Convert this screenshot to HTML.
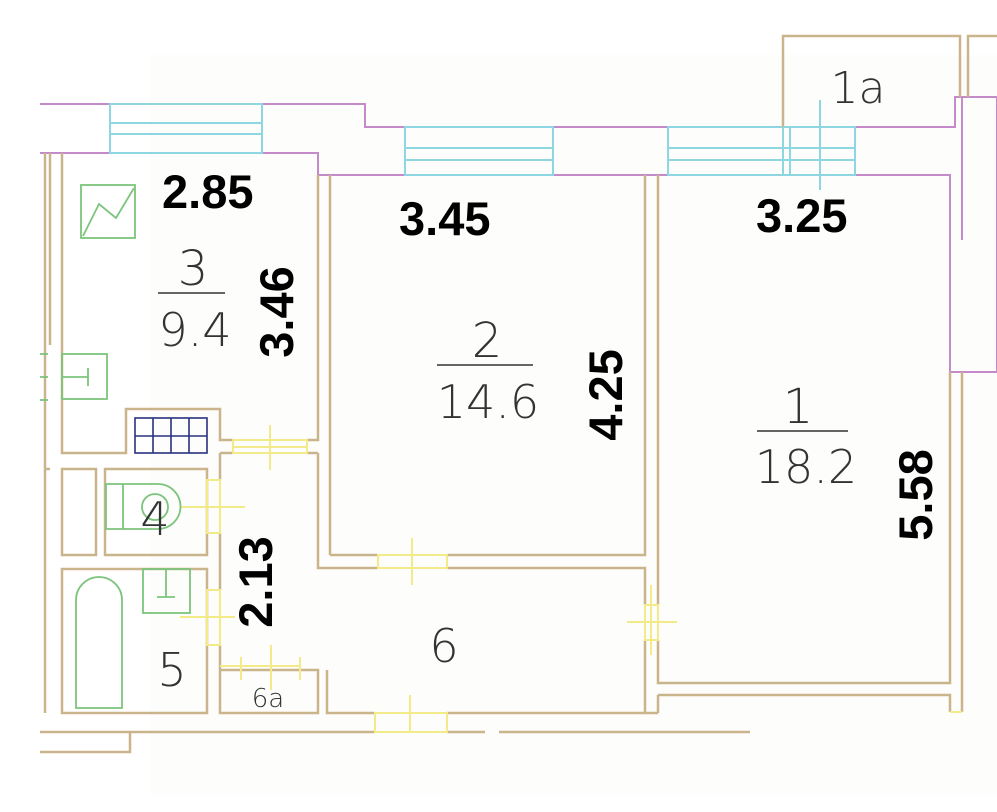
<!DOCTYPE html>
<html><head><meta charset="utf-8"><style>
html,body{margin:0;padding:0;background:#fff;}
svg{display:block}
.t{stroke:#c9b48c;stroke-width:2.5;fill:none}
.m{stroke:#c58ac9;stroke-width:2;fill:none}
.c{stroke:#8fd6e3;stroke-width:2;fill:none}
.g{stroke:#7cc47c;stroke-width:1.8;fill:none}
.y{stroke:#f3ea8a;stroke-width:2;fill:none}
.b{font-family:"Liberation Sans",sans-serif;font-weight:bold;font-size:47px;fill:#000}
.l{font-family:"DejaVu Sans","Liberation Sans",sans-serif;font-weight:200;fill:#333}
</style></head><body>
<svg width="997" height="812" viewBox="0 0 997 812" xmlns="http://www.w3.org/2000/svg">
<rect width="997" height="812" fill="#fff"/>
<rect x="150" y="55" width="847" height="740" fill="#fdfdfb"/>
<!-- facade -->
<polyline class="m" points="40,104 110,104"/>
<polyline class="m" points="262,104 365,104 365,127 405,127"/>
<polyline class="m" points="855,127 955,127 955,97 997,97"/>
<polyline class="m" points="40,153 110,153"/>
<polyline class="m" points="262,153 318,153 318,175 405,175"/>
<rect class="m" x="553" y="127" width="115" height="48"/>
<polyline class="m" points="855,175 950,175 950,372 997,372"/>
<line class="m" x1="962" y1="97" x2="962" y2="240"/>
<line class="m" x1="997" y1="97" x2="997" y2="372"/>
<!-- windows -->
<rect class="c" x="110" y="104" width="152" height="49"/>
<line class="c" x1="110" y1="123" x2="262" y2="123"/><line class="c" x1="110" y1="134" x2="262" y2="134"/>
<rect class="c" x="405" y="127" width="148" height="48"/>
<line class="c" x1="405" y1="148" x2="553" y2="148"/><line class="c" x1="405" y1="160" x2="553" y2="160"/>
<rect class="c" x="668" y="127" width="187" height="48"/>
<line class="c" x1="668" y1="148" x2="855" y2="148"/><line class="c" x1="668" y1="160" x2="855" y2="160"/>
<line class="c" x1="783" y1="127" x2="783" y2="175"/><line class="c" x1="790" y1="127" x2="790" y2="175"/>
<line class="c" x1="820" y1="100" x2="820" y2="190"/>
<!-- balconies -->
<polyline class="t" points="783,127 783,36 960,36 960,97"/>
<polyline class="t" points="968,97 968,36 997,36"/>
<!-- left outer walls -->
<line class="t" x1="45" y1="153" x2="45" y2="713"/>
<line class="t" x1="50" y1="153" x2="50" y2="345"/>
<!-- room 3 -->
<polyline class="t" points="62,153 62,453 126,453 126,409 220,409 220,440 233,440"/>
<polyline class="t" points="307,440 318,440 318,175"/>
<line class="t" x1="330" y1="175" x2="330" y2="555"/>
<!-- room 2 -->
<polyline class="t" points="330,555 378,555"/><polyline class="t" points="447,555 645,555 645,175"/>
<polyline class="t" points="318,453 318,568 378,568"/><polyline class="t" points="447,568 645,568 645,605"/>
<polyline class="t" points="645,640 645,713 447,713"/>
<polyline class="t" points="307,453 318,453"/>
<polyline class="t" points="220,453 233,453"/>
<!-- room 1 -->
<polyline class="t" points="658,175 658,605"/><polyline class="t" points="658,640 658,683 950,683 950,372"/>
<polyline class="t" points="658,695 950,695 950,712"/>
<line class="t" x1="962" y1="372" x2="962" y2="712"/>
<line class="t" x1="645" y1="713" x2="658" y2="713"/><line class="t" x1="658" y1="695" x2="658" y2="713"/>
<!-- corridor / wet -->
<polyline class="t" points="220,453 220,480"/><polyline class="t" points="220,533 220,590"/><polyline class="t" points="220,645 220,713 318,713 318,670 220,670"/>
<polyline class="t" points="327,670 327,713 375,713"/>
<rect class="t" x="62" y="469" width="34" height="86"/>
<rect class="t" x="105" y="469" width="102" height="86"/>
<rect class="t" x="62" y="569" width="145" height="144"/>
<line class="t" x1="45" y1="469" x2="50" y2="469"/>
<line class="t" x1="40" y1="732" x2="375" y2="732"/>
<line class="t" x1="447" y1="732" x2="485" y2="732"/>
<line class="t" x1="499" y1="732" x2="750" y2="732"/>
<polyline class="t" points="40,752 130,752 130,732"/>
<!-- doors yellow -->
<g class="y">
<rect x="233" y="440" width="74" height="13"/><line x1="270" y1="425" x2="270" y2="470"/><line x1="233" y1="447" x2="307" y2="447"/>
<rect x="207" y="480" width="13" height="53"/><line x1="180" y1="507" x2="245" y2="507"/>
<rect x="207" y="590" width="13" height="55"/><line x1="180" y1="617" x2="235" y2="617"/>
<rect x="378" y="555" width="69" height="13"/><line x1="412" y1="538" x2="412" y2="585"/>
<rect x="645" y="605" width="13" height="35"/><line x1="627" y1="622" x2="677" y2="622"/><line x1="651" y1="585" x2="651" y2="655"/>
<rect x="375" y="713" width="72" height="19"/><line x1="410" y1="695" x2="410" y2="732"/>
<line x1="220" y1="666" x2="300" y2="666"/><line x1="241" y1="657" x2="241" y2="680"/><line x1="271" y1="645" x2="271" y2="690"/><line x1="300" y1="657" x2="300" y2="680"/>
<line x1="950" y1="712" x2="962" y2="712"/>
</g>
<!-- fixtures -->
<g class="g">
<rect x="81" y="185" width="54" height="53"/><polyline points="83,236 99,204 116,218 134,188"/>
<rect x="62" y="354" width="45" height="45"/><line x1="62" y1="377" x2="88" y2="377"/><line x1="88" y1="368" x2="88" y2="386"/>
<line x1="40" y1="354" x2="48" y2="354"/><line x1="40" y1="377" x2="48" y2="377"/><line x1="40" y1="400" x2="48" y2="400"/>
<path d="M106,484 H158 A22,22 0 0 1 158,529 H106 Z"/><line x1="123" y1="484" x2="123" y2="529"/><circle cx="155" cy="507" r="13"/>
<rect x="143" y="569" width="47" height="44"/><line x1="166" y1="569" x2="166" y2="597"/><line x1="157" y1="597" x2="175" y2="597"/>
<path d="M76,708 V600 A23,23 0 0 1 122,600 V708 Z"/>
</g>
<g stroke="#2b3180" stroke-width="1.6" fill="none">
<rect x="135" y="418" width="72" height="35"/><line x1="135" y1="436" x2="207" y2="436"/>
<line x1="153" y1="418" x2="153" y2="453"/><line x1="171" y1="418" x2="171" y2="453"/><line x1="189" y1="418" x2="189" y2="453"/>
</g>
<!-- dimension text -->
<text class="b" x="162" y="208">2.85</text>
<text class="b" x="399" y="235">3.45</text>
<text class="b" x="756" y="232">3.25</text>
<text class="b" transform="translate(293,312) rotate(-90)" text-anchor="middle">3.46</text>
<text class="b" transform="translate(622,395) rotate(-90)" text-anchor="middle">4.25</text>
<text class="b" transform="translate(932,495) rotate(-90)" text-anchor="middle">5.58</text>
<text class="b" transform="translate(272,582) rotate(-90)" text-anchor="middle">2.13</text>
<!-- room labels -->
<g class="l" text-anchor="middle">
<text x="193" y="285" font-size="48">3</text>
<line x1="158" y1="293" x2="225" y2="293" stroke="#333" stroke-width="1.5"/>
<text x="195" y="346" font-size="46">9.4</text>
<text x="487" y="357" font-size="48">2</text>
<line x1="437" y1="365" x2="533" y2="365" stroke="#333" stroke-width="1.5"/>
<text x="488" y="418" font-size="46">14.6</text>
<text x="798" y="423" font-size="48">1</text>
<line x1="757" y1="431" x2="848" y2="431" stroke="#333" stroke-width="1.5"/>
<text x="806" y="483" font-size="46">18.2</text>
<text x="155" y="535" font-size="46">4</text>
<text x="172" y="686" font-size="46">5</text>
<text x="444" y="662" font-size="46">6</text>
<text x="268" y="707" font-size="26">6a</text>
<text x="858" y="103" font-size="44">1a</text>
</g>
</svg>
</body></html>
